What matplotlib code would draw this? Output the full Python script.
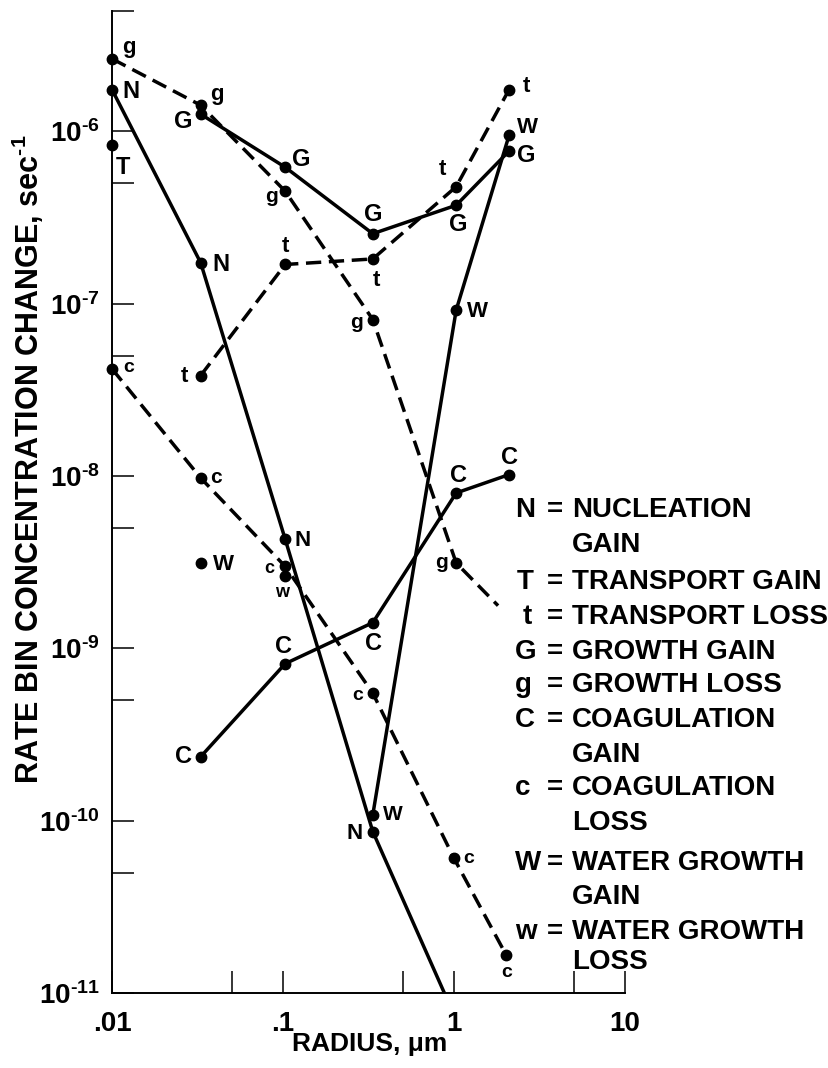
import numpy as np
import matplotlib.pyplot as plt
from matplotlib.ticker import FixedLocator, FixedFormatter, NullFormatter

plt.rcParams['font.family'] = ['Liberation Sans', 'DejaVu Sans']
plt.rcParams['font.weight'] = 'bold'
plt.rcParams['mathtext.fontset'] = 'custom'
plt.rcParams['mathtext.rm'] = 'Liberation Sans:bold'
plt.rcParams['mathtext.bf'] = 'Liberation Sans:bold'
plt.rcParams['mathtext.it'] = 'Liberation Sans:bold:italic'
plt.rcParams['mathtext.default'] = 'rm'
plt.rcParams['lines.scale_dashes'] = False

# Rate of bin concentration change (sec^-1) vs. particle radius (um)
# nucleation gain
r_N = [0.01, 0.033, 0.103, 0.335, 1.03]
rate_N = [1.75e-6, 1.73e-7, 4.3e-9, 8.65e-11, 7e-12]
# transport gain (single bin)
r_T = [0.01]
rate_T = [8.3e-7]
# transport loss
r_t = [0.033, 0.103, 0.335, 1.03, 2.1]
rate_t = [3.83e-8, 1.69e-7, 1.82e-7, 4.78e-7, 1.75e-6]
# growth gain
r_G = [0.033, 0.103, 0.335, 1.03, 2.1]
rate_G = [1.26e-6, 6.2e-7, 2.55e-7, 3.73e-7, 7.7e-7]
# growth loss
r_g = [0.01, 0.033, 0.103, 0.335, 1.03, 1.81]
rate_g = [2.64e-6, 1.42e-6, 4.5e-7, 8.1e-8, 3.13e-9, 1.77e-9]
# coagulation gain
r_C = [0.033, 0.103, 0.335, 1.03, 2.1]
rate_C = [2.35e-10, 8.15e-10, 1.41e-9, 7.98e-9, 1.02e-8]
# coagulation loss
r_c = [0.01, 0.033, 0.103, 0.335, 1.0, 2.02]
rate_c = [4.19e-8, 9.75e-9, 2.99e-9, 5.5e-10, 6.05e-11, 1.66e-11]
# water growth gain (isolated small-bin value, then connected curve)
r_W0 = [0.033]
rate_W0 = [3.13e-9]
r_W = [0.335, 1.03, 2.1]
rate_W = [1.08e-10, 9.2e-8, 9.5e-7]
# water growth loss (single bin)
r_w = [0.103]
rate_w = [2.62e-9]

legend_keys = ['N', 'T', 't', 'G', 'g', 'C', 'c', 'W', 'w']
legend_text = [['NUCLEATION', 'GAIN'], ['TRANSPORT GAIN'], ['TRANSPORT LOSS'],
               ['GROWTH GAIN'], ['GROWTH LOSS'], ['COAGULATION', 'GAIN'],
               ['COAGULATION', 'LOSS'], ['WATER GROWTH', 'GAIN'],
               ['WATER GROWTH', 'LOSS']]

W, H = 829, 1068
fig = plt.figure(figsize=(W / 100, H / 100), dpi=100)
x0, x1, y0, y1 = 112, 625, 993, 11
ax = fig.add_axes([x0 / W, 1 - y0 / H, (x1 - x0) / W, (y0 - y1) / H])
ax.set_xscale('log')
ax.set_yscale('log')
ax.set_xlim(0.01, 10)
ax.set_ylim(1e-11, 5e-6)

LW = 2.5
MS = 7.5
DASH = (11, 5.5)

def curve(x, y, dashed, nmark=None):
    line, = ax.plot(x, y, color='black', lw=LW, solid_capstyle='butt')
    if dashed:
        line.set_dashes(DASH)
    n = len(x) if nmark is None else nmark
    ax.plot(x[:n], y[:n], 'o', color='black', ms=MS, clip_on=False, zorder=3)

curve(r_N, rate_N, False, nmark=4)
curve(r_t, rate_t, True)
curve(r_G, rate_G, False)
curve(r_g, rate_g, True, nmark=5)
curve(r_C, rate_C, False)
curve(r_c, rate_c, True)
curve(r_W, rate_W, False)
for x, y in [(r_T, rate_T), (r_W0, rate_W0), (r_w, rate_w)]:
    ax.plot(x, y, 'o', color='black', ms=MS, clip_on=False, zorder=3)

# point labels: (text, x, y, index, dx px, dy px, size)
labels = [
    ('g', r_g, rate_g, 0, 17, 11, 16), ('g', r_g, rate_g, 1, 16, 11, 16),
    ('g', r_g, rate_g, 2, -14, -5, 15), ('g', r_g, rate_g, 3, -16, -3, 15),
    ('g', r_g, rate_g, 4, -15, 0, 15),
    ('N', r_N, rate_N, 0, 19, -2, 17), ('N', r_N, rate_N, 1, 20, -2, 17),
    ('N', r_N, rate_N, 2, 17, -1, 16), ('N', r_N, rate_N, 3, -18, -2, 16),
    ('T', r_T, rate_T, 0, 11, -22, 17),
    ('G', r_G, rate_G, 0, -17, -7, 17), ('G', r_G, rate_G, 1, 16, 8, 17),
    ('G', r_G, rate_G, 2, 0, 19, 17), ('G', r_G, rate_G, 3, 2, -19, 17),
    ('G', r_G, rate_G, 4, 17, -5, 17),
    ('t', r_t, rate_t, 0, -16, -1, 16), ('t', r_t, rate_t, 1, 0, 18, 16),
    ('t', r_t, rate_t, 2, 4, -22, 16), ('t', r_t, rate_t, 3, -14, 17, 16),
    ('t', r_t, rate_t, 4, 17, 3, 16),
    ('W', r_W, rate_W, 0, 20, 0, 15), ('W', r_W, rate_W, 1, 21, -2, 16),
    ('W', r_W, rate_W, 2, 18, 8, 16), ('W', r_W0, rate_W0, 0, 23, -2, 16),
    ('C', r_C, rate_C, 0, -17, 0, 17), ('C', r_C, rate_C, 1, -2, 17, 17),
    ('C', r_C, rate_C, 2, 1, -21, 17), ('C', r_C, rate_C, 3, 2, 17, 17),
    ('C', r_C, rate_C, 4, 0, 17, 17),
    ('c', r_c, rate_c, 0, 17, 1, 14), ('c', r_c, rate_c, 1, 15, 0, 15),
    ('c', r_c, rate_c, 2, -16, -2, 13), ('c', r_c, rate_c, 3, -15, -2, 14),
    ('c', r_c, rate_c, 4, 15, 0, 14), ('c', r_c, rate_c, 5, 0, -17, 14),
    ('w', r_w, rate_w, 0, -3, -16, 13),
]
for txt, xs, ys, i, dx, dy, size in labels:
    ax.annotate(txt, (xs[i], ys[i]), xytext=(dx * 0.72, dy * 0.72),
                textcoords='offset points', ha='center', va='center',
                fontsize=size, fontweight='bold', annotation_clip=False)

# axes styling: only left and bottom spines, inward ticks at decades and 5x
for side in ['top', 'right']:
    ax.spines[side].set_visible(False)
for side in ['left', 'bottom']:
    ax.spines[side].set_linewidth(1.4)

ax.xaxis.set_major_locator(FixedLocator([0.01, 0.1, 1, 10]))
ax.xaxis.set_minor_locator(FixedLocator([0.05, 0.5, 5]))
ax.xaxis.set_major_formatter(FixedFormatter(['.01', '.1', '1', '10']))
ax.xaxis.set_minor_formatter(NullFormatter())
ydec = [10.0 ** k for k in range(-11, -5)]
ax.yaxis.set_major_locator(FixedLocator(ydec))
ax.yaxis.set_minor_locator(FixedLocator([5 * d for d in ydec]))
ax.yaxis.set_major_formatter(
    FixedFormatter(['10$^{\u2010%d}$' % -k for k in range(-11, -5)]))
ax.yaxis.set_minor_formatter(NullFormatter())
ax.tick_params(which='both', direction='in', length=16, width=1.1)
ax.tick_params(axis='x', which='major', pad=13, labelsize=20)
ax.tick_params(axis='y', which='major', pad=9, labelsize=20)

ax.set_xlabel('RADIUS, μm', fontsize=19, fontweight='bold')
ax.xaxis.set_label_coords(0.503, -0.040)
ax.xaxis.label.set_va('top')
fig.text(28 / W, 1 - 459 / H, 'RATE BIN CONCENTRATION CHANGE, sec$^{\u20101}$',
         rotation=90, ha='center', va='center', fontsize=22, fontweight='bold')

# key to the symbols
rows = [510, 545, 582, 617, 652, 685, 720, 755, 788, 823, 863, 897, 932, 962]
r = 0
for key, words in zip(legend_keys, legend_text):
    kx = {'T': 517, 't': 523}.get(key, 515)
    fig.text(kx / W, 1 - rows[r] / H, key, ha='left', va='center', fontsize=20)
    fig.text(555 / W, 1 - rows[r] / H, '=', ha='center', va='center', fontsize=20)
    for w in words:
        fig.text(572 / W, 1 - rows[r] / H, w, ha='left', va='center', fontsize=20)
        r += 1

fig.savefig('out.png', dpi=100)
